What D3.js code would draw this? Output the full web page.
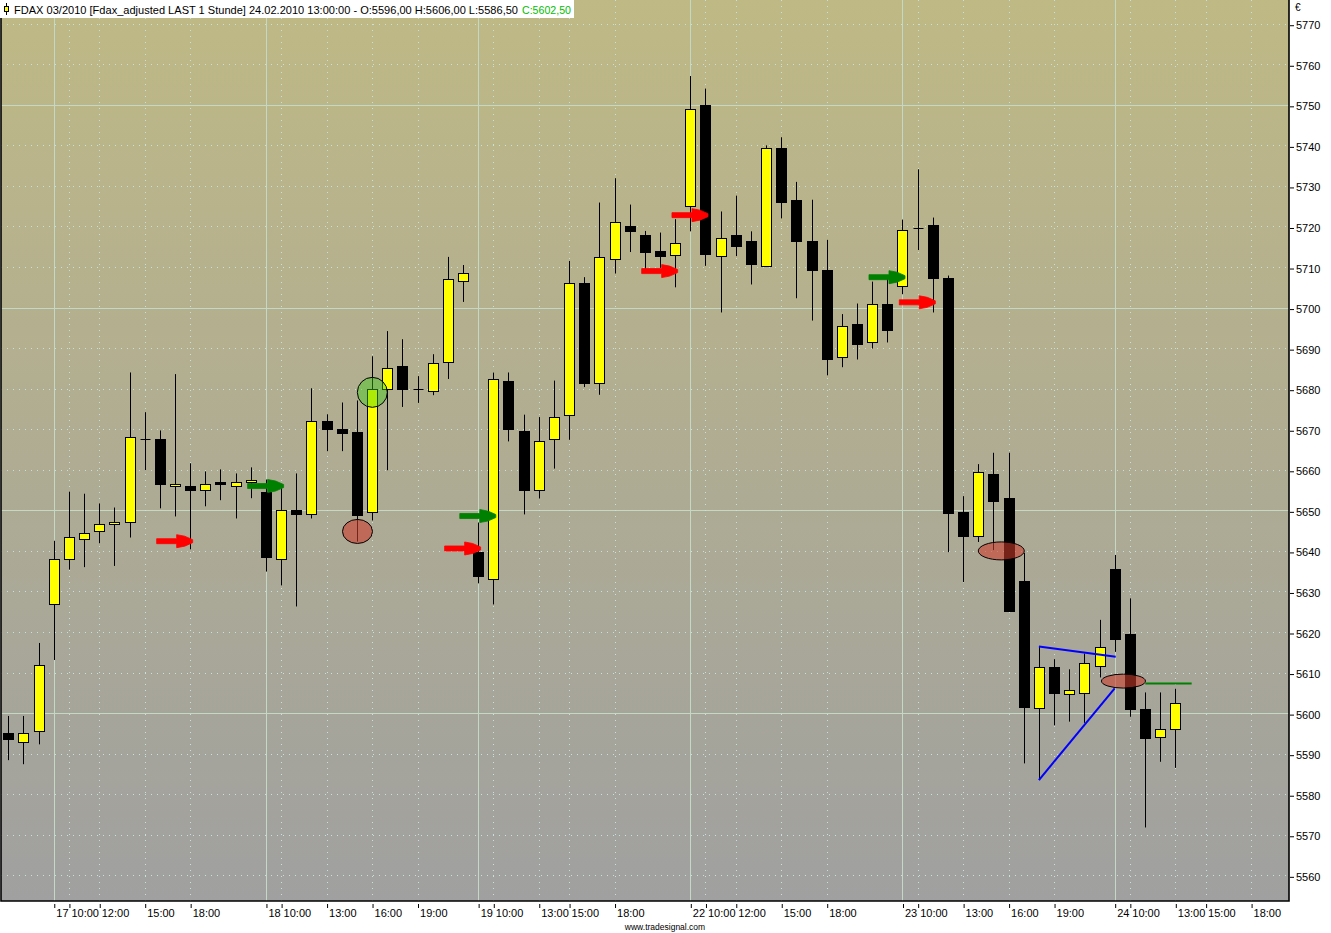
<!DOCTYPE html>
<html>
<head>
<meta charset="utf-8">
<script src="https://cdn.jsdelivr.net/npm/d3@7"></script>
<style>
  body { margin: 0; background: #fff; }
  svg { display: block; }
  text { font-family: "Liberation Sans", Arial, sans-serif; }
</style>
</head>
<body>
<svg id="chart" width="1331" height="933"></svg>
<script>
// FDAX 03/2010, 1 hour bars, 16.02 20:00 -> 24.02 13:00
const opens = [
  5595.2, 5593.0, 5595.7, 5627.0, 5638.0, 5643.0, 5644.8, 5646.6, 5647.1, 5667.7,
  5667.7, 5656.0, 5656.1, 5655.1, 5657.1, 5656.0, 5657.0, 5654.6, 5638.0, 5650.2,
  5649.1, 5672.1, 5670.1, 5669.2, 5649.6, 5680.0, 5685.5, 5680.0, 5679.5, 5686.5,
  5706.5, 5639.8, 5633.0, 5682.0, 5669.6, 5655.0, 5667.5, 5673.5, 5706.0, 5681.4,
  5712.0, 5720.0, 5717.9, 5713.9, 5713.0, 5725.0, 5750.0, 5712.7, 5717.8, 5716.3,
  5710.2, 5739.4, 5726.6, 5716.3, 5709.3, 5687.8, 5696.0, 5691.5, 5701.0, 5705.4,
  5719.7, 5720.3, 5707.4, 5649.5, 5643.6, 5659.0, 5653.0, 5632.6, 5601.2, 5611.3,
  5604.6, 5605.0, 5611.7, 5635.5, 5619.4, 5601.1, 5594.0, 5596.0
];
const highs = [
  5599.3, 5599.3, 5617.3, 5642.5, 5654.6, 5654.1, 5651.7, 5650.7, 5684.0, 5674.2,
  5669.7, 5683.6, 5661.6, 5659.6, 5660.1, 5659.1, 5660.6, 5657.6, 5655.5, 5659.1,
  5680.1, 5673.7, 5676.6, 5677.1, 5688.0, 5694.2, 5692.2, 5683.1, 5688.5, 5712.5,
  5710.5, 5647.0, 5684.0, 5684.0, 5673.6, 5673.0, 5682.0, 5711.5, 5707.5, 5725.9,
  5731.9, 5725.4, 5718.9, 5718.5, 5721.8, 5757.1, 5754.0, 5723.7, 5727.6, 5718.8,
  5740.0, 5742.0, 5731.0, 5726.6, 5716.7, 5698.4, 5701.0, 5706.4, 5708.0, 5721.7,
  5734.1, 5722.2, 5707.9, 5653.5, 5661.4, 5664.2, 5664.2, 5639.5, 5616.4, 5613.3,
  5610.8, 5614.7, 5623.0, 5639.0, 5628.3, 5605.1, 5605.1, 5606.0
];
const lows = [
  5588.4, 5587.4, 5592.3, 5613.1, 5635.4, 5636.0, 5641.9, 5636.3, 5643.3, 5659.9,
  5650.5, 5648.5, 5640.4, 5651.0, 5652.5, 5648.0, 5653.0, 5634.9, 5631.5, 5626.3,
  5648.0, 5664.6, 5664.6, 5642.3, 5647.5, 5659.9, 5675.5, 5676.5, 5678.4, 5682.4,
  5701.4, 5632.0, 5626.8, 5667.0, 5649.0, 5652.9, 5660.3, 5667.4, 5680.4, 5678.5,
  5708.4, 5713.7, 5709.0, 5709.8, 5705.0, 5718.8, 5710.3, 5698.8, 5712.7, 5705.7,
  5710.0, 5722.0, 5702.3, 5696.8, 5683.3, 5685.3, 5687.2, 5689.9, 5691.4, 5703.3,
  5714.2, 5698.8, 5639.7, 5632.3, 5642.2, 5640.2, 5625.0, 5587.6, 5583.5, 5597.0,
  5597.9, 5597.6, 5608.8, 5615.1, 5599.1, 5571.8, 5588.0, 5586.5
];
const closes = [
  5593.5, 5595.2, 5611.9, 5638.0, 5643.5, 5644.5, 5646.7, 5647.1, 5668.2, 5667.7,
  5656.4, 5656.5, 5655.1, 5656.5, 5656.4, 5657.1, 5657.6, 5638.5, 5650.1, 5649.1,
  5672.1, 5670.1, 5669.0, 5648.9, 5680.0, 5685.0, 5680.0, 5680.0, 5686.4, 5707.0,
  5708.5, 5633.7, 5682.5, 5670.0, 5654.9, 5667.1, 5673.0, 5706.0, 5681.4, 5712.4,
  5721.0, 5719.0, 5713.8, 5712.8, 5716.0, 5749.0, 5713.3, 5717.2, 5715.2, 5710.7,
  5739.4, 5726.0, 5716.5, 5709.2, 5687.2, 5695.5, 5690.9, 5701.0, 5694.4, 5719.2,
  5719.7, 5707.3, 5649.4, 5643.6, 5659.4, 5652.3, 5625.3, 5601.5, 5611.3, 5605.0,
  5605.8, 5612.3, 5616.2, 5618.3, 5601.0, 5593.9, 5596.0, 5602.5
];

// time axis (bar index -> label)
const tickBars = [3, 4, 6, 9, 12, 17, 18, 21, 24, 27, 31, 32, 35, 37, 40,
                  45, 46, 48, 51, 54, 59, 60, 63, 66, 69, 73, 74, 77, 79, 82];
const tickLabels = ["17", "10:00", "12:00", "15:00", "18:00", "18", "10:00", "13:00", "16:00", "19:00",
                    "19", "10:00", "13:00", "15:00", "18:00", "22", "10:00", "12:00", "15:00", "18:00",
                    "23", "10:00", "13:00", "16:00", "19:00", "24", "10:00", "13:00", "15:00", "18:00"];
const dayBars = [3, 17, 31, 45, 59, 73];
const priceTicks = d3.range(5560, 5771, 10);

// signal arrows
const arrowBars = [12, 18, 31, 32, 44, 46, 59, 61];
const arrowValues = [5642.4, 5656.0, 5640.6, 5648.6, 5709.0, 5722.8, 5707.5, 5701.3];
const arrowKinds = ["sell", "buy", "sell", "buy", "sell", "sell", "buy", "sell"];

// marks
const ellipseBars = [23.04, 65.52, 73.58];
const ellipseValues = [5644.8, 5640.0, 5607.9];
const circleBars = [24.02];
const circleValues = [5679.1];

// drawn lines [bar1, value1, bar2, value2]
const blueLines = [[68, 5616.4, 73.07, 5613.9], [68, 5583.5, 73.0, 5606.1]];
const greenLines = [[75.02, 5607.3, 78.08, 5607.3]];

const header = "FDAX 03/2010 [Fdax_adjusted LAST 1 Stunde] 24.02.2010 13:00:00 - O:5596,00 H:5606,00 L:5586,50";
const headerClose = "C:5602,50";

const svg = d3.select("#chart");
const plot = { left: 1, top: 0, right: 1289, bottom: 901 };

const x = d3.scaleLinear().domain([0, 77]).range([8.3, 1175.3]);
const y = d3.scaleLinear().domain([5553.67, 5775.85]).range([plot.bottom, plot.top]);

const defs = svg.append("defs");
const grad = defs.append("linearGradient")
  .attr("id", "bg").attr("x1", 0).attr("y1", 0).attr("x2", 0).attr("y2", 1);
grad.append("stop").attr("offset", "0%").attr("stop-color", "#bfb985");
grad.append("stop").attr("offset", "55%").attr("stop-color", "#aeab94");
grad.append("stop").attr("offset", "100%").attr("stop-color", "#a0a0a0");
defs.append("clipPath").attr("id", "clip").append("rect")
  .attr("x", plot.left).attr("y", plot.top)
  .attr("width", plot.right - plot.left).attr("height", plot.bottom - plot.top);

svg.append("rect")
  .attr("x", plot.left).attr("y", plot.top)
  .attr("width", plot.right - plot.left).attr("height", plot.bottom - plot.top)
  .attr("fill", "url(#bg)");

// grid
const grid = svg.append("g").attr("clip-path", "url(#clip)");
grid.selectAll(".hgrid")
  .data(priceTicks)
  .join("line")
  .attr("x1", plot.left).attr("x2", plot.right)
  .attr("y1", d => Math.round(y(d)) + 0.5).attr("y2", d => Math.round(y(d)) + 0.5)
  .attr("stroke", d => d % 50 === 0 ? "#c4d8c6" : "#c6e2da")
  .attr("stroke-width", 1)
  .attr("stroke-dasharray", d => d % 50 === 0 ? null : "1,5");
grid.selectAll(".vgrid")
  .data(tickBars)
  .join("line")
  .attr("x1", d => Math.round(x(d)) + 0.5).attr("x2", d => Math.round(x(d)) + 0.5)
  .attr("y1", plot.top).attr("y2", plot.bottom)
  .attr("stroke", d => dayBars.includes(d) ? "#c4d8c6" : "#c6e2da")
  .attr("stroke-width", 1)
  .attr("stroke-dasharray", d => dayBars.includes(d) ? null : "1,5");

// candles
const bars = d3.range(opens.length).map(i => ({
  i, o: opens[i], h: highs[i], l: lows[i], c: closes[i]
}));
const cx = d => Math.round(x(d.i)) + 0.5;
const candles = svg.append("g");
candles.selectAll(".wick")
  .data(bars)
  .join("line")
  .attr("x1", cx).attr("x2", cx)
  .attr("y1", d => y(d.h)).attr("y2", d => y(d.l))
  .attr("stroke", "#000").attr("stroke-width", 1);
candles.selectAll(".body")
  .data(bars.filter(d => d.o !== d.c))
  .join("rect")
  .attr("x", d => cx(d) - 5)
  .attr("width", 10)
  .attr("y", d => Math.round(y(Math.max(d.o, d.c))) + 0.5)
  .attr("height", d => Math.max(1, Math.round(y(Math.min(d.o, d.c))) - Math.round(y(Math.max(d.o, d.c)))))
  .attr("fill", d => d.c > d.o ? "#ffff00" : "#000")
  .attr("stroke", "#000").attr("stroke-width", 1);
candles.selectAll(".doji")
  .data(bars.filter(d => d.o === d.c))
  .join("line")
  .attr("x1", d => cx(d) - 5).attr("x2", d => cx(d) + 5)
  .attr("y1", d => Math.round(y(d.o)) + 0.5).attr("y2", d => Math.round(y(d.o)) + 0.5)
  .attr("stroke", "#000").attr("stroke-width", 1);

// marks
const ellipseR = [[15, 12], [23, 9], [22, 7]];
svg.append("g").selectAll("ellipse")
  .data(ellipseBars.map((b, k) => ({ b, v: ellipseValues[k], r: ellipseR[k] })))
  .join("ellipse")
  .attr("cx", d => x(d.b)).attr("cy", d => y(d.v))
  .attr("rx", d => d.r[0]).attr("ry", d => d.r[1])
  .attr("fill", "rgba(205,60,45,0.58)")
  .attr("stroke", "#000").attr("stroke-width", 1);
svg.append("g").selectAll("circle")
  .data(circleBars.map((b, k) => ({ b, v: circleValues[k] })))
  .join("circle")
  .attr("cx", d => x(d.b)).attr("cy", d => y(d.v)).attr("r", 15)
  .attr("fill", "rgba(60,205,20,0.42)")
  .attr("stroke", "#000").attr("stroke-width", 1);

// lines
const lineG = svg.append("g");
lineG.selectAll(".blue")
  .data(blueLines)
  .join("line")
  .attr("x1", d => x(d[0])).attr("y1", d => y(d[1]))
  .attr("x2", d => x(d[2])).attr("y2", d => y(d[3]))
  .attr("stroke", "#0000ff").attr("stroke-width", 2);
lineG.selectAll(".green")
  .data(greenLines)
  .join("line")
  .attr("x1", d => x(d[0])).attr("y1", d => y(d[1]))
  .attr("x2", d => x(d[2])).attr("y2", d => y(d[3]))
  .attr("stroke", "#008000").attr("stroke-width", 2);

// arrows
const arrowShape = [[-36, -2.5], [-16, -2.5], [-16, -6.5], [-8, -5], [0, -1.5], [0, 1.5],
                    [-8, 5], [-16, 6.5], [-16, 2.5], [-36, 2.5]];
svg.append("g").selectAll("polygon")
  .data(arrowBars.map((b, k) => ({ b, v: arrowValues[k], kind: arrowKinds[k] })))
  .join("polygon")
  .attr("points", d => {
    const tx = x(d.b) + 2.5, ty = y(d.v);
    return arrowShape.map(p => [tx + p[0], ty + p[1]].join(",")).join(" ");
  })
  .attr("fill", d => d.kind === "buy" ? "#008000" : "#ff0000")
  .attr("stroke", d => d.kind === "buy" ? "#008000" : "#ff0000")
  .attr("stroke-width", 0.8)
  .attr("stroke-linejoin", "round");

// frame
svg.append("path")
  .attr("d", `M${plot.left},${plot.top}V${plot.bottom}H${plot.right}V${plot.top}`)
  .attr("fill", "none").attr("stroke", "#000").attr("stroke-width", 1.6);

// x axis
const xAxis = svg.append("g").attr("transform", `translate(0,${plot.bottom + 1})`)
  .call(d3.axisBottom(x).tickValues(tickBars).tickFormat((d, k) => tickLabels[k]).tickSize(5).tickSizeOuter(0));
xAxis.select(".domain").remove();
xAxis.selectAll(".tick line").attr("transform", "translate(0.5,0)").attr("y1", 2).attr("y2", 6);
xAxis.selectAll(".tick text")
  .attr("text-anchor", "start").attr("x", 2).attr("y", 15).attr("dy", 0)
  .attr("font-size", 11).attr("fill", "#000")
  .style("font-family", "'Liberation Sans', Arial, sans-serif");

// y axis
const yAxis = svg.append("g").attr("transform", `translate(${plot.right + 1},0)`)
  .call(d3.axisRight(y).tickValues(priceTicks).tickFormat(d3.format("d")).tickSize(4).tickSizeOuter(0));
yAxis.select(".domain").remove();
yAxis.selectAll(".tick line").attr("transform", "translate(0,1.5)");
yAxis.selectAll(".tick text")
  .attr("x", 6).attr("y", 1.5).attr("font-size", 11).attr("fill", "#000")
  .style("font-family", "'Liberation Sans', Arial, sans-serif");
svg.append("text").attr("x", 1295).attr("y", 11)
  .attr("font-size", 10).text("€");

// footer
svg.append("text").attr("x", 665).attr("y", 930).attr("text-anchor", "middle")
  .attr("font-size", 8.5).text("www.tradesignal.com");

// header
svg.append("rect").attr("x", 0).attr("y", 0).attr("width", 574).attr("height", 18).attr("fill", "#fff");
svg.append("line").attr("x1", 6.5).attr("x2", 6.5).attr("y1", 3).attr("y2", 15).attr("stroke", "#000");
svg.append("rect").attr("x", 4.5).attr("y", 6.5).attr("width", 4).attr("height", 5)
  .attr("fill", "#ffff00").attr("stroke", "#000");
svg.append("text").attr("x", 14).attr("y", 14).attr("font-size", 11)
  .attr("textLength", 504).attr("lengthAdjust", "spacingAndGlyphs").text(header);
svg.append("text").attr("x", 522).attr("y", 14).attr("font-size", 11)
  .attr("textLength", 49).attr("lengthAdjust", "spacingAndGlyphs")
  .attr("fill", "#00c000").text(headerClose);
</script>
</body>
</html>
